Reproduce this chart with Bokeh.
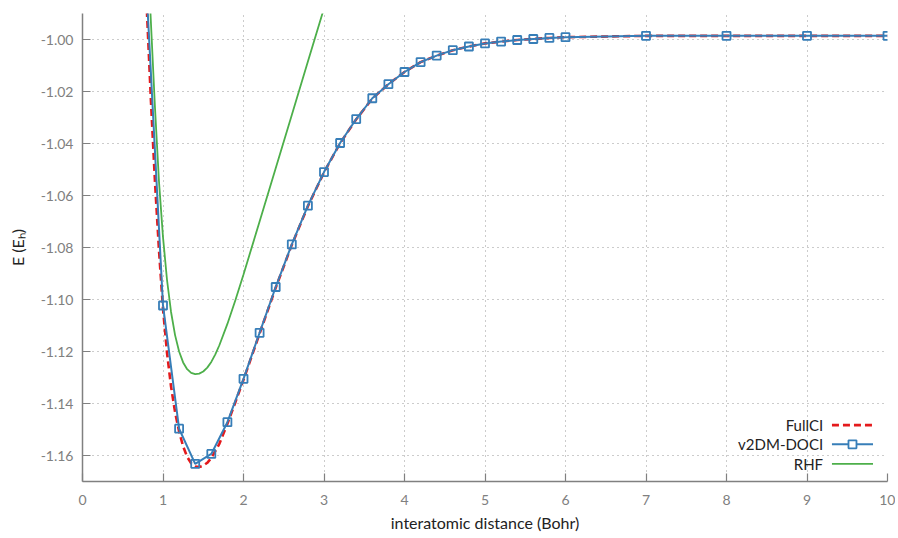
from bokeh.plotting import figure
from bokeh.models import Range1d, FixedTicker, NumeralTickFormatter
from bokeh.core.properties import value
from bokeh.embed import file_html
from bokeh.resources import INLINE

# ---------------- data ----------------
X_START, X_END = 0, 10
Y_START, Y_END = -1.17, -0.99
x_ticks = [0, 1, 2, 3, 4, 5, 6, 7, 8, 9, 10]
y_ticks = [-1.16, -1.14, -1.12, -1.10, -1.08, -1.06, -1.04, -1.02, -1.00]

x_fci = [0.78, 0.80, 0.85, 0.90, 0.95, 1.00, 1.05, 1.10, 1.15, 1.20, 1.25, 1.30,
         1.35, 1.40, 1.45, 1.50, 1.55, 1.60, 1.70, 1.80, 1.90, 2.00, 2.20, 2.40,
         2.60, 2.80, 3.00, 3.20, 3.40, 3.60, 3.80, 4.00, 4.20, 4.40, 4.60, 4.80,
         5.00, 5.20, 5.40, 5.60, 5.80, 6.00, 7.0, 8.0, 9.0, 10.0]
e_fci = [-0.976, -0.989, -1.0235, -1.0545, -1.081, -1.1035, -1.1205, -1.1335,
         -1.1433, -1.1508, -1.1565, -1.1605, -1.1630, -1.1642, -1.1644, -1.1639,
         -1.1628, -1.1610, -1.1555, -1.1478, -1.1394, -1.1309, -1.1131, -1.0955,
         -1.0790, -1.0641, -1.0511, -1.0399, -1.0307, -1.0227, -1.0172, -1.0125,
         -1.0087, -1.0062, -1.0041, -1.0027, -1.0015, -1.0008, -1.0002, -0.9998,
         -0.9994, -0.9991, -0.9986, -0.9986, -0.9986, -0.9986]

x_doci = [0.8, 1.0, 1.2, 1.4, 1.6, 1.8, 2.0, 2.2, 2.4, 2.6, 2.8, 3.0, 3.2, 3.4,
          3.6, 3.8, 4.0, 4.2, 4.4, 4.6, 4.8, 5.0, 5.2, 5.4, 5.6, 5.8, 6.0,
          7.0, 8.0, 9.0, 10.0]
e_doci = [-0.9834, -1.1023, -1.1497, -1.1632, -1.1594, -1.1472, -1.1305, -1.1128,
          -1.0952, -1.0788, -1.0639, -1.0510, -1.0398, -1.0306, -1.0226, -1.0172,
          -1.0125, -1.0087, -1.0062, -1.0041, -1.0027, -1.0015, -1.0008, -1.0002,
          -0.9998, -0.9994, -0.9991, -0.9986, -0.9986, -0.9986, -0.9986]

x_rhf = [0.80, 0.84, 0.90, 0.95, 1.00, 1.05, 1.10, 1.15, 1.20, 1.25, 1.30, 1.35,
         1.40, 1.45, 1.50, 1.55, 1.60, 1.65, 1.70, 1.80, 1.90, 2.00, 2.20, 2.40,
         2.60, 2.80, 3.00, 3.10]
e_rhf = [-0.962, -0.987, -1.026, -1.0545, -1.0760, -1.0925, -1.1048, -1.1137,
         -1.1200, -1.1242, -1.1268, -1.1282, -1.1287, -1.1285, -1.1277, -1.1262,
         -1.1240, -1.1211, -1.1176, -1.1094, -1.1002, -1.0904, -1.0700, -1.0495,
         -1.0290, -1.0085, -0.9880, -0.9778]

labels = ["FullCI", "v2DM-DOCI", "RHF"]

RED, BLUE, GREEN = "#e41a1c", "#377eb8", "#4daf4a"
FONT = "Lato"

# ---------------- figure ----------------
p = figure(width=895, height=536, output_backend="svg", toolbar_location=None,
           x_range=Range1d(X_START, X_END), y_range=Range1d(Y_START, Y_END),
           min_border_left=82, min_border_right=8, min_border_top=13,
           min_border_bottom=55)
p.outline_line_color = None

for ax in (p.xaxis[0], p.yaxis[0]):
    ax.axis_line_color = "#808080"
    ax.axis_line_width = 1.5
    ax.major_tick_in = 8
    ax.major_tick_out = 0
    ax.major_tick_line_color = "#808080"
    ax.major_tick_line_width = 1.2
    ax.minor_tick_line_color = None
    ax.major_label_text_font = FONT
    ax.major_label_text_font_size = "14px"
    ax.major_label_text_color = "#808080"
    ax.axis_label_text_font = FONT
    ax.axis_label_text_font_size = "16px"
    ax.axis_label_text_font_style = "normal"
    ax.axis_label_text_color = "#222222"

p.xaxis.ticker = FixedTicker(ticks=x_ticks)
p.yaxis.ticker = FixedTicker(ticks=y_ticks)
p.yaxis.formatter = NumeralTickFormatter(format="0.00")
p.xaxis.major_label_standoff = 13
p.yaxis.major_label_standoff = 9
p.xaxis.axis_label_standoff = 5
p.yaxis.axis_label_standoff = 11
p.xaxis.axis_label = "interatomic distance (Bohr)"
p.yaxis.axis_label = "E (E\u2095)"

for g in (p.xgrid[0], p.ygrid[0]):
    g.grid_line_color = "#999999"
    g.grid_line_dash = "1 4"
    g.grid_line_width = 1

# ---------------- series ----------------
p.line(x_rhf, e_rhf, line_color=GREEN, line_width=1.8)
p.line(x_fci, e_fci, line_color=RED, line_width=2.6, line_dash="7 4")
p.line(x_doci, e_doci, line_color=BLUE, line_width=2)
p.scatter(x_doci, e_doci, marker="square", size=8, line_color=BLUE,
          line_width=1.8, fill_alpha=0)

# ---------------- legend (text left of sample, as in reference) ----------------
row_y = [Y_START + 0.0217, Y_START + 0.0143, Y_START + 0.0068]
tx = X_END - 0.80
lx0, lx1 = X_END - 0.69, X_END - 0.18
p.text(x=[tx] * 3, y=row_y, text=labels, text_align="right",
       text_baseline="middle", text_font=value(FONT), text_font_size="15px",
       text_color="#222222")
p.line([lx0, lx1], [row_y[0]] * 2, line_color=RED, line_width=2.6, line_dash="7 4")
p.line([lx0, lx1], [row_y[1]] * 2, line_color=BLUE, line_width=2)
p.scatter([(lx0 + lx1) / 2], [row_y[1]], marker="square", size=8,
          line_color=BLUE, line_width=1.8, fill_color="white")
p.line([lx0, lx1], [row_y[2]] * 2, line_color=GREEN, line_width=1.8)

open("out.html", "w").write(file_html(p, INLINE))
